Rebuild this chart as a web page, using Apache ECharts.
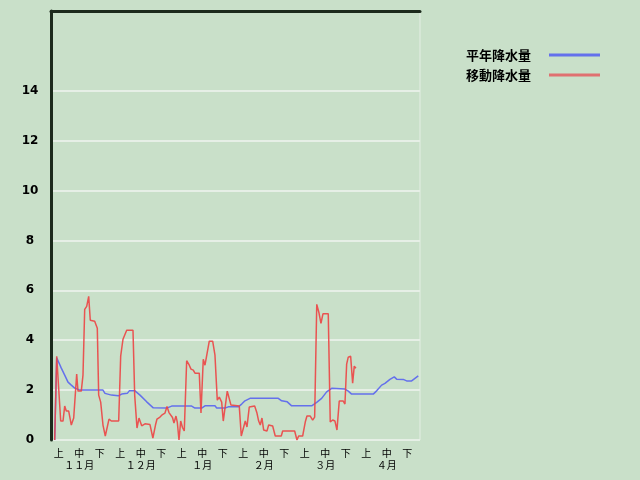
<!DOCTYPE html>
<html><head><meta charset="utf-8">
<script src="https://cdn.jsdelivr.net/npm/echarts@6/dist/echarts.min.js"></script>
<style>html,body{margin:0;padding:0;background:#c9e0c9;}#c{width:640px;height:480px;}</style>
</head><body><div id="c"></div>
<script>
// x positions are day offsets from 1 Nov (0..181)
var dekadLabels = ['上','中\n１１月','下','上','中\n１２月','下','上','中\n１月','下','上','中\n２月','下','上','中\n３月','下','上','中\n４月','下'];
var yTicks = [0,2,4,6,8,10,12,14];
var seriesNames = ['平年降水量','移動降水量'];

var normalDays = [1.8,2.8,5.05,6.72,8.34,9.96,11.62,14.22,25.5,26.48,29.67,33.0,34.67,37.42,38.4,41.2,43.65,46.94,50.17,56.74,59.2,69.0,70.62,73.91,75.53,80.43,81.27,85.34,86.96,91.86,93.53,95.14,97.6,111.48,113.15,115.89,118.05,127.86,130.31,132.76,135.21,137.67,144.19,145.81,147.47,158.07,159.73,162.18,163.8,166.26,168.37,169.54,172.78,174.45,176.9,178.52,180.14];
var normalVals = [0,3.3,2.88,2.6,2.32,2.2,2.08,2.0,2.0,1.87,1.8,1.77,1.84,1.87,1.97,1.97,1.8,1.53,1.29,1.28,1.36,1.36,1.28,1.28,1.37,1.37,1.28,1.28,1.33,1.33,1.44,1.57,1.67,1.67,1.57,1.53,1.37,1.37,1.51,1.67,1.93,2.07,2.04,1.96,1.84,1.84,1.97,2.2,2.27,2.43,2.53,2.44,2.43,2.37,2.37,2.47,2.57];

var movingDays = [1.81,2.8,4.76,5.89,6.72,7.5,8.68,9.96,11.13,12.6,13.24,14.22,14.86,15.69,16.53,17.51,18.49,19.27,21.43,22.71,23.39,24.37,25.5,26.63,27.61,28.45,29.57,33.2,34.18,35.31,36.15,37.13,40.22,41.05,42.18,43.16,44.48,46.1,48.55,49.97,51.25,51.99,53.46,54.69,55.91,56.89,57.87,59.59,60.32,61.3,61.94,62.78,63.61,64.49,65.37,66.55,67.83,68.66,69.79,70.62,72.73,73.57,74.69,75.53,76.36,77.64,79.3,80.43,81.56,82.54,83.72,84.5,85.48,86.46,87.3,88.28,92.35,93.33,94.51,95.29,96.13,97.25,98.23,99.9,101.03,101.86,102.65,103.48,104.32,105.93,106.77,108.73,110.0,112.95,113.64,119.52,120.65,121.48,123.44,124.72,125.55,127.17,128.35,129.33,130.36,131.44,132.42,133.4,136.0,136.98,138.16,139.28,140.27,141.39,143.35,144.19,145.02,145.81,146.98,147.96,148.75,149.58];
var movingVals = [0,3.36,0.76,0.76,1.36,1.16,1.16,0.6,0.88,2.64,1.96,2.04,1.96,2.6,5.24,5.36,5.76,4.8,4.76,4.48,1.8,1.52,0.6,0.16,0.16,0.84,0.76,0.76,3.36,4.04,4.08,4.4,4.4,1.8,0.48,0.88,0.57,0.65,0.62,0.08,0.6,0.84,0.92,1.02,1.08,1.34,1.1,0.9,0.68,0.96,0.72,0,0.76,0.5,0.36,3.18,3.0,2.84,2.8,2.68,2.68,1.08,3.24,3.0,3.08,3.96,3.96,3.4,1.6,1.72,1.52,0.76,0.76,1.96,1.96,1.4,1.36,0.16,0.52,0.76,0.52,1.32,1.4,1.36,1.08,0.76,0.6,0.88,0.4,0.36,0.6,0.56,0.16,0.16,0.36,0.36,0,0.16,0.16,0.72,0.96,0.96,0.8,0.92,5.44,5.1,4.68,5.06,5.06,0.72,0.8,0.76,0.4,1.56,1.56,1.44,3.04,3.32,3.36,2.28,2.96,2.88];

function pairs(xs, ys){ return xs.map(function(x,i){ return [x, ys[i]]; }); }

var font = "'Noto Sans CJK JP', sans-serif";
var chart = echarts.init(document.getElementById('c'));
chart.setOption({
  backgroundColor: '#c9e0c9',
  animation: false,
  textStyle: { fontFamily: font },
  legend: {
    orient: 'vertical', left: 461, top: 43, align: 'right',
    itemWidth: 51, itemHeight: 3, itemGap: 6, icon: 'rect',
    textStyle: { fontFamily: font, fontSize: 13, fontWeight: 'bold', color: '#000', padding: [0, 13, 0, 0], lineHeight: 14 },
    data: seriesNames
  },
  grid: { left: 51, right: 220, top: 11, bottom: 40, show: true, borderColor: '#e4eee4', borderWidth: 1, backgroundColor: 'transparent' },
  xAxis: [
    { type: 'value', min: 0, max: 181, position: 'top',
      axisLine: { show: true, onZero: false, lineStyle: { color: '#1c2a1c', width: 3 } },
      axisTick: { show: false }, axisLabel: { show: false }, splitLine: { show: false } },
    { type: 'category', data: dekadLabels, position: 'bottom', boundaryGap: true,
      axisLine: { show: false }, axisTick: { show: false }, splitLine: { show: false },
      axisLabel: { interval: 0, color: '#000', fontSize: 10, fontFamily: font, lineHeight: 12, margin: 7, verticalAlign: 'top', padding: [0, 5, 0, 0] } }
  ],
  yAxis: {
    type: 'value', min: 0, max: 17.2, interval: 2,
    axisLine: { show: true, onZero: false, lineStyle: { color: '#1c2a1c', width: 3 } },
    axisTick: { show: false },
    axisLabel: { color: '#000', fontSize: 12, fontWeight: 'bold', fontFamily: 'DejaVu Sans, sans-serif', margin: 21, align: 'center',
      formatter: function(v){ return yTicks.indexOf(v) >= 0 ? String(v) : ''; } },
    splitLine: { show: true, lineStyle: { color: ['#e6efe6','#e6efe6','#e6efe6','#e6efe6','#e6efe6','#e6efe6','#e6efe6','#e6efe6','rgba(0,0,0,0)'], width: 2 } }
  },
  series: [
    { name: seriesNames[0], type: 'line', xAxisIndex: 0, symbol: 'none', data: pairs(normalDays, normalVals),
      lineStyle: { color: '#6470ec', width: 1.5 }, itemStyle: { color: '#6470ec' } },
    { name: seriesNames[1], type: 'line', xAxisIndex: 0, symbol: 'none', data: pairs(movingDays, movingVals),
      lineStyle: { color: '#ec4444', width: 1.5, opacity: 0.9 }, itemStyle: { color: '#e07070' } }
  ]
});
</script></body></html>
